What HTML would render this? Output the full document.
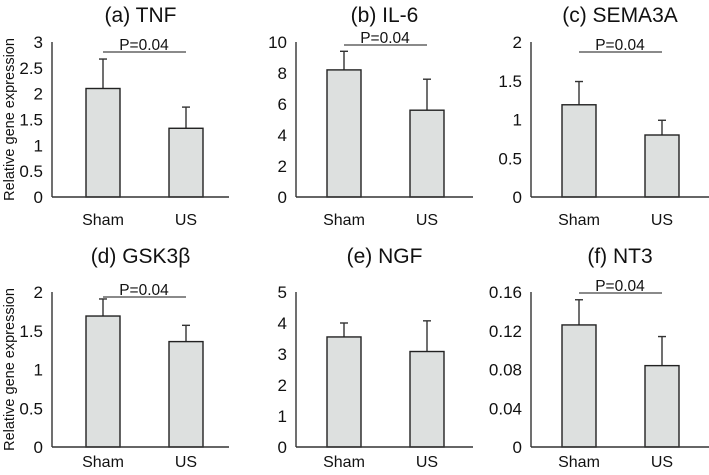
<!DOCTYPE html>
<html><head><meta charset="utf-8"><style>
body{margin:0;background:#fff}
svg{display:block;font-family:"Liberation Sans",sans-serif}
</style></head><body>
<svg id="c" width="709" height="475"></svg>
<script>
const titles=["(a) TNF","(b) IL-6","(c) SEMA3A","(d) GSK3β","(e) NGF","(f) NT3"];
const categories=["Sham","US"];
const means=[[2.1,1.33],[8.2,5.6],[1.19,0.8],[1.69,1.36],[3.55,3.08],[0.126,0.084]];
const errs=[[0.57,0.41],[1.2,2.0],[0.3,0.19],[0.22,0.21],[0.45,0.99],[0.026,0.03]];
const yMax=[3,10,2,2,5,0.16];
const yStep=[0.5,2,0.5,0.5,1,0.04];
const sig=[true,true,true,true,false,true];
const pText="P=0.04";
const tickDecimals=[1,0,1,1,0,2];
const svg=document.getElementById('c');
const NS="http://www.w3.org/2000/svg";
function mk(t,a,p){const e=document.createElementNS(NS,t);for(const k in a)e.setAttribute(k,a[k]);(p||svg).appendChild(e);return e;}
const axX=[52,296,531];const xEnd=[229,473,709];const shamOff=[34,31,31];
const sigOff=[10,3,10,5,0,1];const catOff=[28,20];const titleOff=[20,29];
for(let i=0;i<6;i++){
  const col=i%3,row=Math.floor(i/3);
  const top=42+row*250,bot=197+row*250,ax=axX[col];
  const g=mk('g',{});
  
  
  const y=v=>bot-(v/yMax[i])*(bot-top);
  const t=mk('text',{x:(ax+xEnd[col])/2,y:top-titleOff[row],'text-anchor':'middle','font-size':21,fill:'#111'},g);t.textContent=titles[i];
  
  const n=Math.round(yMax[i]/yStep[i]);
  for(let k=0;k<=n;k++){const v=k*yStep[i];
    let s=tickDecimals[i]==2?(v==0?"0":v.toFixed(2)):(+v.toFixed(2)).toString();
    const tl=mk('text',{x:ax-9,y:y(v)+6,'text-anchor':'end','font-size':17,fill:'#111'},g);tl.textContent=s;
    }
  for(let j=0;j<2;j++){
    const bx=ax+shamOff[col]+j*83,cx=bx+17;
    const top2=y(means[i][j]+errs[i][j]);
    const el=mk('line',{x1:cx,x2:cx,y1:y(means[i][j]),y2:top2,stroke:'#333','stroke-width':1.4},g);
    
    const cap=mk('line',{x1:cx-4,x2:cx+4,y1:top2,y2:top2,stroke:'#333','stroke-width':1.4},g);
    
    const r=mk('rect',{x:bx,y:y(means[i][j]),width:34,height:bot-y(means[i][j]),fill:'#dde0df',stroke:'#222','stroke-width':1.4},g);
    
    const cl=mk('text',{x:cx,y:bot+catOff[row],'text-anchor':'middle','font-size':16,fill:'#111'},g);cl.textContent=categories[j];
    
  }
  const a1=mk('line',{x1:ax,x2:ax,y1:top,y2:bot,stroke:'#333','stroke-width':1.4},g);
  
  const a2=mk('line',{x1:ax,x2:xEnd[col],y1:bot,y2:bot,stroke:'#333','stroke-width':1.4},g);
  
  if(sig[i]){const sx=ax+shamOff[col]+17;const ly=top+sigOff[i];
    const sl=mk('line',{x1:sx,x2:sx+83,y1:ly,y2:ly,stroke:'#444','stroke-width':1.2},g);
    
    const pt=mk('text',{x:sx+41,y:ly-2,'text-anchor':'middle','font-size':15.5,fill:'#111'},g);pt.textContent=pText;
    }
  if(col==0){const yl=mk('text',{x:0,y:0,transform:`translate(14,${(top+bot)/2}) rotate(-90)`,'text-anchor':'middle','font-size':14.5,fill:'#111'},g);
    yl.textContent="Relative gene expression";
    }
}
</script>
</body></html>
